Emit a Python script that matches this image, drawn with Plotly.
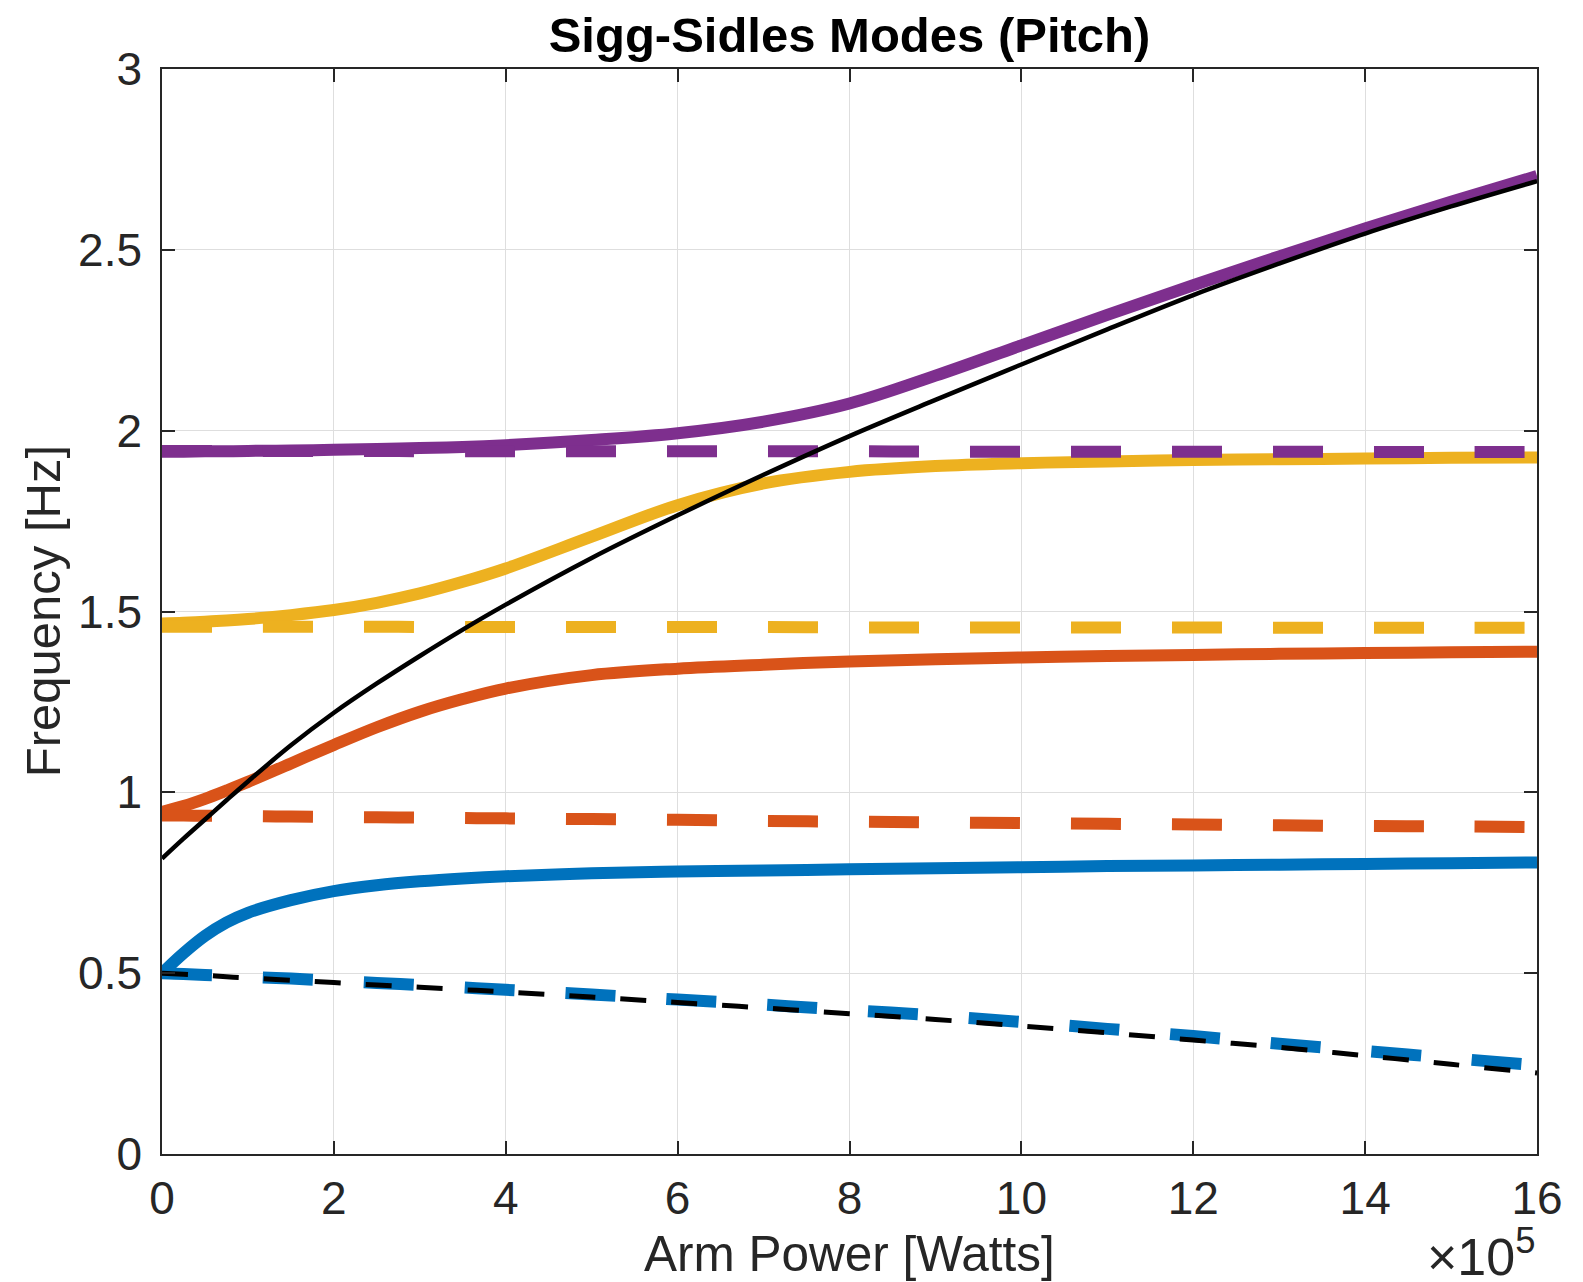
import plotly.graph_objects as go

# Arm power in units of 1e5 W
power_e5 = [0, 0.25, 0.5, 0.75, 1, 1.5, 2, 2.5, 3, 3.5, 4, 5, 6, 7, 8, 9, 10, 11, 12, 13, 14, 15, 16]
power = [p * 1e5 for p in power_e5]

# Coupled (solid) modes [Hz]
mode1 = [0.500, 0.555, 0.603, 0.640, 0.667, 0.702, 0.727, 0.743, 0.754, 0.762, 0.768, 0.776, 0.781,
         0.784, 0.787, 0.790, 0.793, 0.796, 0.798, 0.800, 0.802, 0.804, 0.806]
mode2 = [0.946, 0.962, 0.982, 1.005, 1.029, 1.080, 1.131, 1.180, 1.223, 1.258, 1.287, 1.324, 1.342,
         1.353, 1.362, 1.368, 1.373, 1.377, 1.380, 1.383, 1.385, 1.387, 1.389]
mode3 = [1.467, 1.469, 1.472, 1.475, 1.479, 1.490, 1.504, 1.524, 1.550, 1.582, 1.619, 1.707, 1.794,
         1.854, 1.886, 1.902, 1.910, 1.915, 1.919, 1.921, 1.923, 1.925, 1.926]
mode4 = [1.942, 1.942, 1.943, 1.943, 1.944, 1.945, 1.947, 1.949, 1.952, 1.955, 1.960, 1.974, 1.993,
         2.025, 2.075, 2.152, 2.236, 2.320, 2.402, 2.482, 2.559, 2.633, 2.704]

# Uncoupled (dashed) modes [Hz]
unc1 = [0.500, 0.498, 0.495, 0.493, 0.490, 0.485, 0.479, 0.473, 0.467, 0.4605, 0.454, 0.441, 0.427,
        0.413, 0.398, 0.383, 0.365, 0.346, 0.326, 0.305, 0.285, 0.265, 0.245]
unc2 = [0.936, 0.936, 0.935, 0.935, 0.934, 0.933, 0.932, 0.931, 0.930, 0.929, 0.928, 0.926, 0.924,
        0.921, 0.919, 0.917, 0.915, 0.913, 0.911, 0.909, 0.907, 0.906, 0.904]
unc3 = [1.458, 1.458, 1.458, 1.458, 1.458, 1.458, 1.458, 1.458, 1.457, 1.457, 1.457, 1.457, 1.457,
        1.457, 1.456, 1.456, 1.456, 1.456, 1.456, 1.455, 1.455, 1.455, 1.455]
unc4 = [1.944, 1.944, 1.944, 1.944, 1.944, 1.944, 1.944, 1.944, 1.943, 1.943, 1.943, 1.943, 1.943,
        1.943, 1.943, 1.942, 1.942, 1.942, 1.942, 1.942, 1.941, 1.941, 1.941]

# Optical spring (black) [Hz]
spring_hard = [0.817, 0.872, 0.925, 0.978, 1.030, 1.130, 1.220, 1.301, 1.377, 1.450, 1.519, 1.648, 1.766,
               1.878, 1.985, 2.085, 2.183, 2.280, 2.375, 2.462, 2.545, 2.620, 2.690]
spring_soft = [0.500, 0.497, 0.494, 0.490, 0.487, 0.480, 0.474, 0.467, 0.461, 0.4545, 0.448, 0.434, 0.419,
               0.404, 0.388, 0.372, 0.354, 0.335, 0.315, 0.295, 0.272, 0.248, 0.224]

x_ticks = [0, 2, 4, 6, 8, 10, 12, 14, 16]
y_ticks = [0, 0.5, 1, 1.5, 2, 2.5, 3]

colors = ["#0072BD", "#D95319", "#EDB120", "#7E2F8E"]

FONT = "Liberation Sans, Arial, Helvetica, sans-serif"
AXC = "#262626"

fig = go.Figure()
for vals, c in zip([mode1, mode2, mode3, mode4], colors):
    fig.add_trace(go.Scatter(x=power, y=vals, mode="lines", line=dict(color=c, width=12, shape="spline"),
                             showlegend=False, hoverinfo="skip"))
for vals, c in zip([unc1, unc2, unc3, unc4], colors):
    fig.add_trace(go.Scatter(x=power, y=vals, mode="lines",
                             line=dict(color=c, width=12, dash="50px,51px", shape="spline"),
                             showlegend=False, hoverinfo="skip"))
fig.add_trace(go.Scatter(x=power, y=spring_hard, mode="lines", line=dict(color="black", width=4.5, shape="spline"),
                         showlegend=False, hoverinfo="skip"))
fig.add_trace(go.Scatter(x=power, y=spring_soft, mode="lines",
                         line=dict(color="black", width=5, dash="26px,25px", shape="spline"),
                         showlegend=False, hoverinfo="skip"))

axis_common = dict(
    showline=True, linecolor=AXC, linewidth=1.5, mirror="ticks",
    ticks="inside", ticklen=13, tickwidth=1.5, tickcolor=AXC,
    showgrid=True, gridcolor="#dedede", gridwidth=1.2, zeroline=False,
    tickfont=dict(family=FONT, size=46, color=AXC), automargin=False,
)

fig.update_xaxes(range=[0, 16e5], tickvals=[t * 1e5 for t in x_ticks],
                 ticktext=[str(t) for t in x_ticks], ticklabelstandoff=3, **axis_common)
fig.update_yaxes(range=[0, 3], tickvals=y_ticks,
                 ticktext=[("%g" % t) for t in y_ticks], ticklabelstandoff=9, **axis_common)

fig.update_layout(
    width=1583, height=1282,
    margin=dict(l=162, r=46, t=69, b=128),
    plot_bgcolor="white", paper_bgcolor="white",
    title=dict(text="<b>Sigg-Sidles Modes (Pitch)</b>", x=0.5, xref="paper", xanchor="center",
               y=1 - 35 / 1282, yref="container", yanchor="middle",
               font=dict(family=FONT, size=49, color="black")),
    annotations=[
        dict(text="Arm Power [Watts]", xref="paper", yref="paper", x=0.5, y=-0.092,
             xanchor="center", yanchor="middle", showarrow=False,
             font=dict(family=FONT, size=49.5, color=AXC)),
        dict(text="Frequency [Hz]", xref="paper", yref="paper", x=-0.0868, y=0.5,
             xanchor="center", yanchor="middle", textangle=-90, showarrow=False,
             font=dict(family=FONT, size=49, color=AXC)),
        dict(text="×10<sup>5</sup>", xref="paper", yref="paper", x=1.0, y=-0.118,
             xanchor="right", yanchor="bottom", yshift=-6, showarrow=False,
             font=dict(family=FONT, size=52, color=AXC)),
    ],
)

fig.write_html("out.html", config={"displayModeBar": False},
               post_script="document.body.style.margin='0';document.body.style.overflow='hidden';")
